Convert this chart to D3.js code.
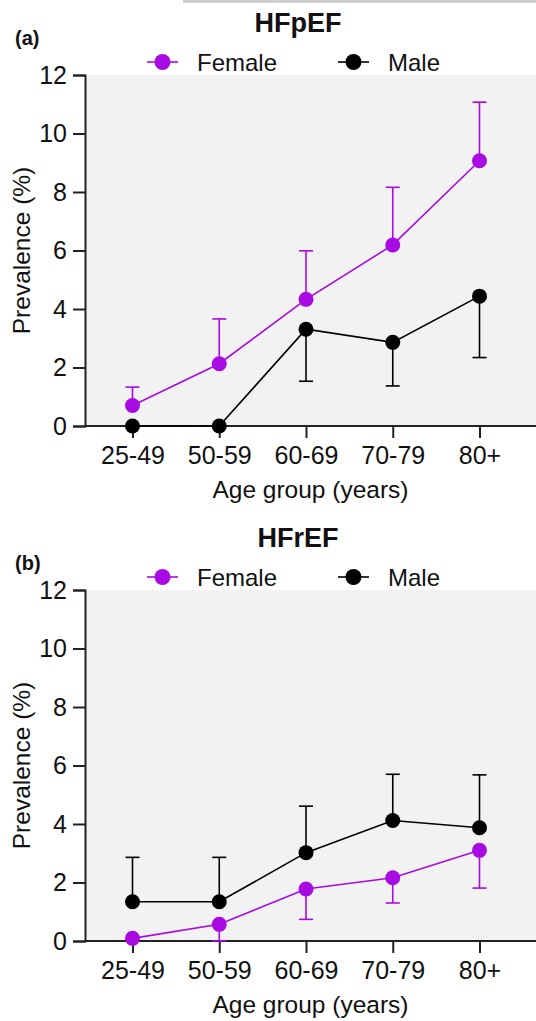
<!DOCTYPE html>
<html lang="en">
<head>
<meta charset="UTF-8">
<title>HFpEF / HFrEF prevalence</title>
<script src="https://d3js.org/d3.v7.min.js"></script>
<style>
  body { margin: 0; background: #fff; }
  text { font-family: "Liberation Sans", Arial, sans-serif; fill: #111; }
</style>
</head>
<body>
<svg id="chart" width="536" height="1021"></svg>
<script>
// ---- data ----
var ageGroups = ["25-49", "50-59", "60-69", "70-79", "80+"];
var yTicks = [0, 2, 4, 6, 8, 10, 12];

// panel (a) HFpEF
var hfpefFemale    = [0.70, 2.13, 4.33, 6.19, 9.07];
var hfpefFemaleErr = [1.33, 3.66, 5.99, 8.16, 11.07];   // upper end of bar
var hfpefMale      = [0, 0, 3.31, 2.86, 4.44];
var hfpefMaleErr   = [null, null, 1.53, 1.37, 2.34];    // lower end of bar

// panel (b) HFrEF
var hfrefFemale    = [0.09, 0.57, 1.78, 2.16, 3.10];
var hfrefFemaleErr = [null, 0, 0.74, 1.30, 1.81];       // lower end of bar
var hfrefMale      = [1.34, 1.34, 3.02, 4.12, 3.87];
var hfrefMaleErr   = [2.86, 2.86, 4.61, 5.70, 5.68];    // upper end of bar

var purple = "#a80ae2", black = "#000";
var svg = d3.select("#chart");

// little grey strip left over at the very top of the source image
svg.append("rect").attr("x", 183).attr("y", 0).attr("width", 353).attr("height", 3).attr("fill", "#cfcfcf");

function drawPanel(top, title, tag, tagY, series) {
    var plotTop = top, plotBottom = top + 351, left = 85, right = 536;
    var x = d3.scalePoint().domain(ageGroups).range([132.5, 479.5]);
    var y = d3.scaleLinear().domain([0, 12]).range([plotBottom, plotTop]);
    var g = svg.append("g");

    // grey plot area
    g.append("rect").attr("x", left).attr("y", plotTop)
        .attr("width", right - left).attr("height", plotBottom - plotTop).attr("fill", "#f2f2f2");

    // title + panel tag
    g.append("text").attr("x", 298).attr("y", top - 43).attr("text-anchor", "middle")
        .attr("font-size", 27).attr("font-weight", "bold").text(title);
    g.append("text").attr("x", 15).attr("y", tagY)
        .attr("font-size", 20).attr("font-weight", "bold").text(tag);

    // legend
    var legend = [{name: "Female", c: purple, x: 147}, {name: "Male", c: black, x: 338}];
    legend.forEach(function (l) {
        var ly = top - 13;
        g.append("line").attr("x1", l.x).attr("x2", l.x + 31).attr("y1", ly).attr("y2", ly)
            .attr("stroke", l.c).attr("stroke-width", 1.6);
        g.append("circle").attr("cx", l.x + 15.5).attr("cy", ly).attr("r", 8).attr("fill", l.c);
        g.append("text").attr("x", l.x + 50).attr("y", ly + 8.5).attr("font-size", 24).text(l.name);
    });

    // y axis
    var yAxis = g.append("g").attr("transform", "translate(" + left + ",0)")
        .call(d3.axisLeft(y).tickValues(yTicks).tickSize(12).tickPadding(6));
    yAxis.selectAll("path, line").attr("stroke", "#222").attr("stroke-width", 2);
    yAxis.selectAll("text").attr("font-size", 25).attr("fill", "#111")
        .style("font-family", "Liberation Sans, Arial, sans-serif");

    // x axis
    var xAxis = g.append("g").attr("transform", "translate(0," + plotBottom + ")")
        .call(d3.axisBottom(x).tickSize(12).tickSizeOuter(0).tickPadding(8));
    xAxis.select(".domain").remove();
    xAxis.selectAll("line").attr("stroke", "#222").attr("stroke-width", 2);
    xAxis.selectAll("text").attr("font-size", 25).attr("fill", "#111")
        .style("font-family", "Liberation Sans, Arial, sans-serif");
    g.append("line").attr("x1", left - 1).attr("x2", right).attr("y1", plotBottom).attr("y2", plotBottom)
        .attr("stroke", "#222").attr("stroke-width", 2);

    // axis titles
    g.append("text").attr("x", (left + right) / 2).attr("y", plotBottom + 72).attr("text-anchor", "middle")
        .attr("font-size", 24.5).text("Age group (years)");
    g.append("text").attr("transform", "translate(30," + (plotTop + plotBottom) / 2 + ") rotate(-90)")
        .attr("text-anchor", "middle").attr("font-size", 24.5).text("Prevalence (%)");

    // series: error bars, line, markers
    series.forEach(function (s) {
        var pts = s.vals.map(function (v, i) { return {k: ageGroups[i], v: v, e: s.err[i]}; });
        var bars = pts.filter(function (d) { return d.e !== null; });
        g.selectAll(null).data(bars).enter().append("line")
            .attr("x1", function (d) { return x(d.k); }).attr("x2", function (d) { return x(d.k); })
            .attr("y1", function (d) { return y(d.v); }).attr("y2", function (d) { return y(d.e); })
            .attr("stroke", s.c).attr("stroke-width", 1.6);
        g.selectAll(null).data(bars).enter().append("line")
            .attr("x1", function (d) { return x(d.k) - 7; }).attr("x2", function (d) { return x(d.k) + 7; })
            .attr("y1", function (d) { return y(d.e); }).attr("y2", function (d) { return y(d.e); })
            .attr("stroke", s.c).attr("stroke-width", 1.6);
        g.append("path").datum(pts)
            .attr("d", d3.line().x(function (d) { return x(d.k); }).y(function (d) { return y(d.v); }))
            .attr("fill", "none").attr("stroke", s.c).attr("stroke-width", 1.6);
        g.selectAll(null).data(pts).enter().append("circle")
            .attr("cx", function (d) { return x(d.k); }).attr("cy", function (d) { return y(d.v); })
            .attr("r", 7.5).attr("fill", s.c);
    });
}

drawPanel(75, "HFpEF", "(a)", 45, [
    {vals: hfpefMale, err: hfpefMaleErr, c: black},
    {vals: hfpefFemale, err: hfpefFemaleErr, c: purple}
]);
drawPanel(590, "HFrEF", "(b)", 570, [
    {vals: hfrefFemale, err: hfrefFemaleErr, c: purple},
    {vals: hfrefMale, err: hfrefMaleErr, c: black}
]);
</script>
</body>
</html>
